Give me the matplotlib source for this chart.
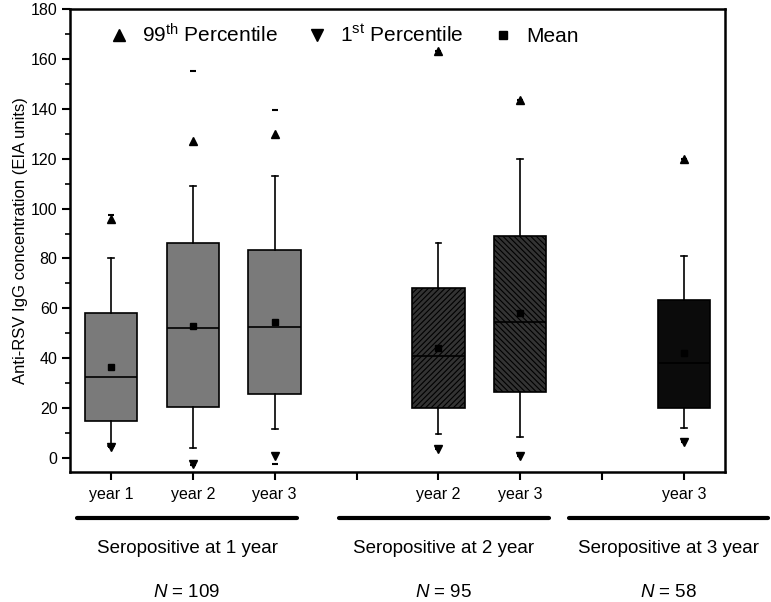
import matplotlib
matplotlib.use("Agg")
import matplotlib.pyplot as plt
from matplotlib.lines import Line2D

plt.rcParams['font.family'] = ['Liberation Sans', 'DejaVu Sans']
plt.rcParams['mathtext.fontset'] = 'custom'
plt.rcParams['mathtext.rm'] = 'Liberation Sans'
plt.rcParams['mathtext.it'] = 'Liberation Sans:italic'
plt.rcParams['hatch.linewidth'] = 0.8

# box positions and values
positions = [1, 2, 3, 5, 6, 8]
q1 = [15, 20.5, 25.5, 20, 26.5, 20]
median = [32.5, 52, 52.5, 41, 54.5, 38]
q3 = [58, 86, 83.5, 68, 89, 63.5]
mean = [36.5, 53, 54.5, 44, 58, 42]
whisk_lo = [5, 4, 11.5, 9.5, 8.5, 12]
whisk_hi = [80, 109, 113, 86, 120, 81]
p1 = [4.5, -2.5, 1, 3.5, 1, 6.5]
p99 = [96, 127, 130, 163, 143.5, 120]
vmin = [4.5, -3, -2.5, 3.5, 1, 6.5]
vmax = [97.5, 155, 139.5, 163, 143.5, 120]

tick_pos = [1, 2, 3, 4, 5, 6, 7, 8]
tick_labels = ['year 1', 'year 2', 'year 3', '', 'year 2', 'year 3', '', 'year 3']

groups = ['Seropositive at 1 year', 'Seropositive at 2 year', 'Seropositive at 3 year']
group_n = ['$N$ = 109', '$N$ = 95', '$N$ = 58']
group_span = [(0.59, 3.27), (3.78, 6.35), (6.6, 9.03)]

face = ['#7a7a7a', '#7a7a7a', '#7a7a7a', '#333333', '#333333', '#0b0b0b']
hatch = ['', '', '', '//////', '\\\\\\\\\\\\', '']

fig = plt.figure(figsize=(7.71, 6.02), dpi=100)
ax = fig.add_axes([0.0908, 0.2164, 0.8495, 0.7686])

stats = []
for i in range(len(positions)):
    stats.append({'med': median[i], 'q1': q1[i], 'q3': q3[i],
                  'whislo': whisk_lo[i], 'whishi': whisk_hi[i],
                  'mean': mean[i], 'fliers': []})

bp = ax.bxp(stats, positions=positions, widths=0.64, patch_artist=True,
            showmeans=True, showfliers=False, capwidths=0.07,
            boxprops=dict(edgecolor='black', linewidth=1.2),
            medianprops=dict(color='black', linewidth=1.2),
            whiskerprops=dict(color='black', linewidth=1.2),
            capprops=dict(color='black', linewidth=1.2),
            meanprops=dict(marker='s', markerfacecolor='black',
                           markeredgecolor='black', markersize=4.5))
for patch, fc, h in zip(bp['boxes'], face, hatch):
    patch.set_facecolor(fc)
    patch.set_hatch(h)

ax.plot(positions, vmax, linestyle='none', marker='_', color='black', markersize=4, markeredgewidth=1.5)
ax.plot(positions, vmin, linestyle='none', marker='_', color='black', markersize=4, markeredgewidth=1.5)
ax.plot(positions, p99, linestyle='none', marker='^', color='black', markersize=6)
ax.plot(positions, p1, linestyle='none', marker='v', color='black', markersize=6)

ax.set_xlim(0.5, 8.5)
ax.set_ylim(-5.5, 180)
ax.set_yticks(range(0, 181, 20))
ax.set_yticks(range(0, 181, 10), minor=True)
ax.set_xticks(tick_pos)
ax.set_xticklabels(tick_labels, fontsize=11.5)
ax.tick_params(axis='y', labelsize=11.5)
ax.tick_params(axis='both', which='major', direction='out', length=5.5, width=1.5)
ax.tick_params(axis='x', which='major', length=6, pad=5)
ax.tick_params(axis='y', which='minor', direction='out', length=3.5, width=1.2)
for s in ax.spines.values():
    s.set_linewidth(1.8)
ax.set_ylabel('Anti-RSV IgG concentration (EIA units)', fontsize=12, labelpad=2)

# group labels under the axis
trans = ax.get_xaxis_transform()
for name, n, (a, b) in zip(groups, group_n, group_span):
    ax.plot([a, b], [-0.100, -0.100], transform=trans, color='black',
            linewidth=3, solid_capstyle='round', clip_on=False)
    ax.text((a + b) / 2, -0.165, name, transform=trans, ha='center', va='center', fontsize=13.5)
    ax.text((a + b) / 2, -0.262, n, transform=trans, ha='center', va='center', fontsize=13.5)

handles = [Line2D([], [], linestyle='none', marker='^', color='black', markersize=9),
           Line2D([], [], linestyle='none', marker='v', color='black', markersize=9),
           Line2D([], [], linestyle='none', marker='s', color='black', markersize=6)]
labels = ['99$^{\\mathrm{th}}$ Percentile', '1$^{\\mathrm{st}}$ Percentile', 'Mean']
ax.legend(handles, labels, ncol=3, loc='upper left', bbox_to_anchor=(0.03, 1.01),
          frameon=False, fontsize=15, handlelength=1.0, handletextpad=0.6,
          columnspacing=1.4)

fig.savefig('out.png', dpi=100)
